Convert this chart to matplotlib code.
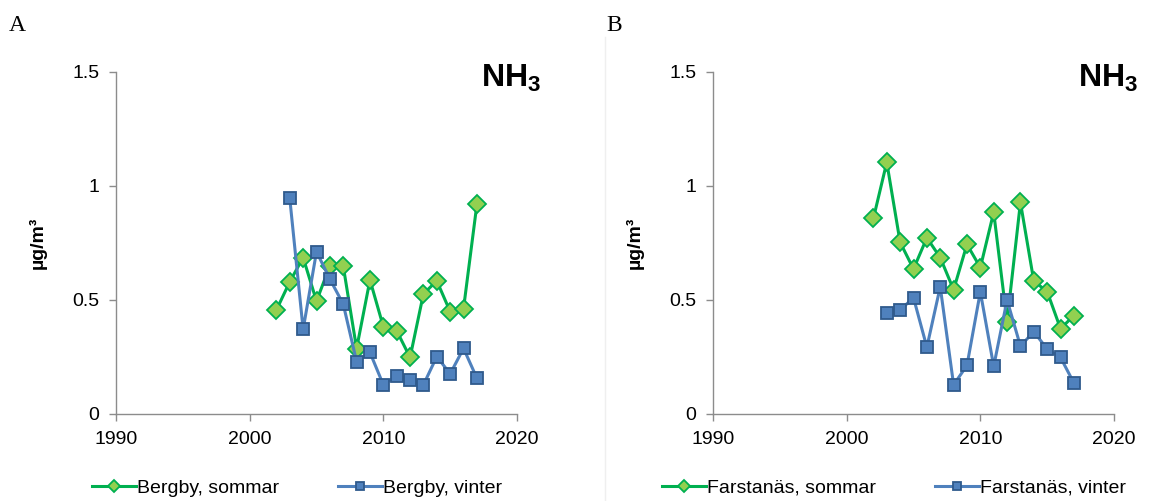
import matplotlib.pyplot as plt
from matplotlib.lines import Line2D

years = list(range(2002, 2018))
winter_years = list(range(2003, 2018))

bergby_sommar = [0.456, 0.58, 0.686, 0.495, 0.65, 0.649, 0.287, 0.588, 0.383, 0.365,
                 0.248, 0.527, 0.584, 0.449, 0.462, 0.92]
bergby_vinter = [0.946, 0.371, 0.712, 0.592, 0.482, 0.23, 0.27, 0.128, 0.168, 0.15,
                 0.128, 0.252, 0.176, 0.288, 0.157]

farstanas_sommar = [0.858, 1.104, 0.753, 0.636, 0.773, 0.686, 0.545, 0.744, 0.642, 0.885,
                    0.405, 0.928, 0.583, 0.537, 0.374, 0.432]
farstanas_vinter = [0.442, 0.456, 0.51, 0.293, 0.558, 0.128, 0.213, 0.536, 0.209, 0.5,
                    0.298, 0.361, 0.285, 0.248, 0.136]

panels = [
    ('A', 'Bergby, sommar', 'Bergby, vinter', bergby_sommar, bergby_vinter),
    ('B', 'Farstanäs, sommar', 'Farstanäs, vinter', farstanas_sommar, farstanas_vinter),
]

x_ticks = [1990, 2000, 2010, 2020]
y_ticks = [0, 0.5, 1, 1.5]
y_tick_labels = ['0', '0.5', '1', '1.5']

plt.rcParams['font.family'] = ['Liberation Sans', 'DejaVu Sans']
plt.rcParams['mathtext.fontset'] = 'custom'
plt.rcParams['mathtext.rm'] = 'Liberation Sans'
plt.rcParams['mathtext.bf'] = 'Liberation Sans:bold'

W, H = 1155, 501
fig = plt.figure(figsize=(W / 100, H / 100), dpi=100)

green_line = '#00B050'
green_face = '#92D050'
blue_line = '#4F81BD'
blue_edge = '#2F5A8C'
axis_gray = '#8C8C8C'


def fx(px):
    return px / W


def fy(py):
    return 1 - py / H


for i, (letter, lab_s, lab_v, sommar, vinter) in enumerate(panels):
    off = 597 * i
    ax = fig.add_axes([fx(116 + off), fy(414), (517 - 116) / W, (414 - 72) / H])
    ax.plot(years, sommar, color=green_line, lw=2.2, marker='D', ms=9,
            mfc=green_face, mec=green_line, mew=1.3, label=lab_s, zorder=3)
    ax.plot(winter_years, vinter, color=blue_line, lw=2.2, marker='s', ms=8,
            mfc=blue_line, mec=blue_edge, mew=1.3, label=lab_v, zorder=4)
    ax.set_xlim(1990, 2020)
    ax.set_ylim(0, 1.5)
    ax.set_xticks(x_ticks)
    ax.set_yticks(y_ticks)
    ax.set_yticklabels(y_tick_labels)
    for s in ['top', 'right']:
        ax.spines[s].set_visible(False)
    for s in ['left', 'bottom']:
        ax.spines[s].set_color(axis_gray)
        ax.spines[s].set_linewidth(1.0)
    ax.tick_params(axis='both', colors=axis_gray, labelcolor='black', labelsize=14,
                   length=5, width=1.0, direction='out', pad=7)
    ax.set_ylabel('µg/m³', fontsize=14, fontweight='bold')
    ax.yaxis.set_label_coords(-0.172, 0.5)
    ax.set_facecolor('none')

    fig.text(fx(541 + off), fy(87), r'$\mathbf{NH_3}$', fontsize=23,
             ha='right', va='baseline')
    fig.text(fx(9 + off), fy(31), letter, fontsize=17, family='Liberation Serif',
             ha='left', va='baseline')

    ax.legend(loc='center', bbox_to_anchor=(fx(297 + off), fy(488)),
              bbox_transform=fig.transFigure, ncol=2, frameon=False, fontsize=14,
              handlelength=2.3, handletextpad=0.05, columnspacing=3.0,
              borderpad=0, borderaxespad=0, markerscale=0.7)

fig.add_artist(Line2D([fx(605), fx(605)], [0, fy(37)], color='#EFEFEF', lw=1.0))

fig.savefig('out.png', dpi=100)
